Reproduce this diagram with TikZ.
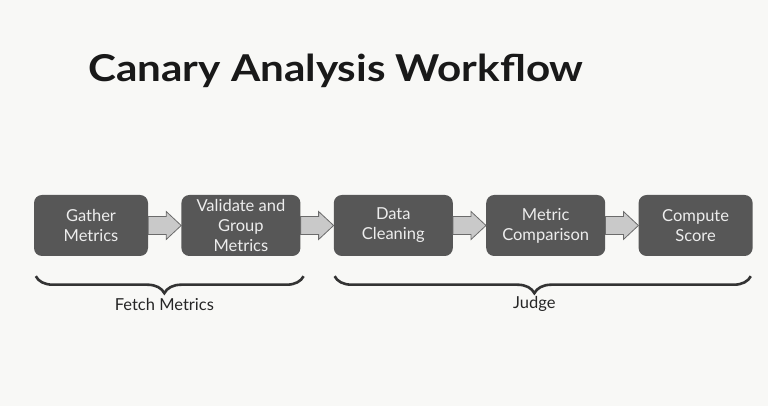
\documentclass[tikz,border=0pt]{standalone}
\usepackage{fontspec}
\setmainfont{Lato}
\usetikzlibrary{positioning,calc,decorations.pathreplacing}

\definecolor{boxgray}{HTML}{575757}
\definecolor{boxtext}{HTML}{EDEDED}
\definecolor{arrowfill}{HTML}{C9C9C9}
\definecolor{arrowline}{HTML}{6B6B6B}
\definecolor{bracegray}{HTML}{333333}
\definecolor{paper}{HTML}{F8F8F6}

\begin{document}
\begin{tikzpicture}[x=1pt,y=1pt,
	stagebox/.style={fill=boxgray, rounded corners=8pt, minimum width=119pt, minimum height=61pt,
		inner sep=0pt, align=center, text=boxtext, font=\fontsize{16.5}{20}\selectfont},
	flowarrow/.style={draw=arrowline, fill=arrowfill, line width=0.8pt, line join=miter},
	phasebrace/.style={draw=bracegray, line width=2.6pt, decorate,
		decoration={brace, mirror, amplitude=17pt, aspect=0.48}},
	phaselabel/.style={font=\fontsize{16.5}{19}\selectfont, text=black!85}]

	% Background and bounding box
	\fill[paper] (0,0) rectangle (768,406);
	\useasboundingbox (0,0) rectangle (768,406);

	% Title
	\node[anchor=base west, inner sep=0pt, font=\fontsize{37}{44}\bfseries\selectfont, text=black!90] (title) at (88,324) {\scalebox{1.14}[1]{Canary Analysis Workflow}};

	% Stages
	\node[stagebox, minimum width=114pt] (gather) at (91,180.5) {Gather\\Metrics};
	\node[stagebox, right=33pt of gather] (validate) {Validate and\\Group\\Metrics};
	\node[stagebox, right=33pt of validate] (cleaning) {Data\\Cleaning};
	\node[stagebox, right=33pt of cleaning] (compare) {Metric\\Comparison};
	\node[stagebox, minimum width=114pt, right=33pt of compare] (score) {Compute\\Score};

	% Arrows between stages
	\foreach \from/\to in {gather/validate, validate/cleaning, cleaning/compare, compare/score}
		\filldraw[flowarrow] ([yshift=-9pt]\from.east) -- ++(18,0) -- ++(0,-5) -- (\to.west)
			-- ([xshift=18pt,yshift=14pt]\from.east) -- ++(0,-5) -- ([yshift=9pt]\from.east) -- cycle;

	% Braces
	\coordinate (fetchL) at ([xshift=2pt,yshift=-20pt]gather.south west);
	\coordinate (fetchR) at ([xshift=3pt,yshift=-20pt]validate.south east);
	\coordinate (judgeL) at ([xshift=1pt,yshift=-20pt]cleaning.south west);
	\coordinate (judgeR) at ([xshift=-2pt,yshift=-20pt]score.south east);
	\draw[phasebrace] (fetchL) -- (fetchR);
	\draw[phasebrace] (judgeL) -- (judgeR);

	% Labels
	\node[phaselabel] (fetch) at ($(fetchL)!0.48!(fetchR)+(0,-28)$) {Fetch Metrics};
	\node[phaselabel] (judge) at ($(judgeL)!0.48!(judgeR)+(0,-28)$) {Judge};

\end{tikzpicture}
\end{document}
